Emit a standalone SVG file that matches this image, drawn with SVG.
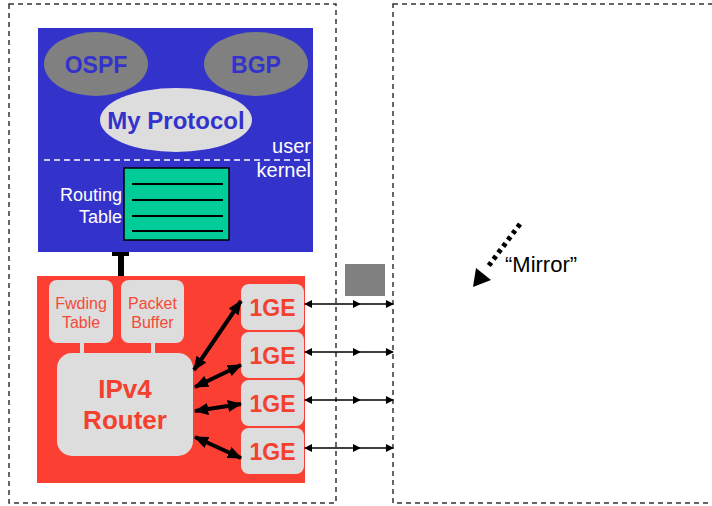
<svg xmlns="http://www.w3.org/2000/svg" width="712" height="506" viewBox="0 0 712 506">
<style>
.frame{fill:none;stroke:#333;stroke-width:1.5;stroke-dasharray:5 4}
.ell{fill:#808080}
.bt{font-family:"Liberation Sans",Arial,sans-serif;font-weight:bold;fill:#3333CC;text-anchor:middle}
.wt{font-family:"Liberation Sans",Arial,sans-serif;fill:#fff;font-size:20px;text-anchor:end}
.box{fill:#DDDDDD}
.rt{font-family:"Liberation Sans",Arial,sans-serif;fill:#F44A3A;text-anchor:middle}
.rb{font-family:"Liberation Sans",Arial,sans-serif;font-weight:bold;fill:#F4402F;text-anchor:middle}
.thick{stroke:#000;stroke-width:4;fill:none;marker-start:url(#ha);marker-end:url(#ha)}
.thin{stroke:#000;stroke-width:1.5;fill:none;marker-start:url(#sa);marker-end:url(#sa)}
</style>
<defs>
<marker id="ha" viewBox="0 0 12 10" refX="11" refY="5" markerWidth="3.6" markerHeight="3" orient="auto-start-reverse" markerUnits="strokeWidth"><path d="M0,0 L12,5 L0,10 z" fill="#000"/></marker>
<marker id="sa" viewBox="0 0 10 10" refX="9" refY="5" markerWidth="5.5" markerHeight="5.5" orient="auto-start-reverse" markerUnits="strokeWidth"><path d="M0,0 L10,5 L0,10 z" fill="#000"/></marker>
</defs>

<g id="host-frame"><rect class="frame" x="9" y="4" width="327" height="499"/></g>
<g id="mirror-frame"><rect class="frame" x="393" y="4" width="340" height="499"/></g>

<g id="user-space">
<rect x="38" y="28" width="275" height="224" fill="#3333CC"/>
<line x1="44" y1="160" x2="310" y2="160" stroke="#fff" stroke-width="1.5" stroke-dasharray="6 4"/>
<text class="wt" x="311" y="153">user</text>
<text class="wt" x="311" y="177">kernel</text>
</g>
<g id="ospf"><ellipse class="ell" cx="96" cy="64" rx="52" ry="32"/><text class="bt" x="96" y="73" font-size="23">OSPF</text></g>
<g id="bgp"><ellipse class="ell" cx="256" cy="64" rx="52" ry="32"/><text class="bt" x="256" y="73" font-size="23">BGP</text></g>
<g id="my-protocol"><ellipse cx="176" cy="120" rx="76" ry="32" fill="#DDDDDD"/><text class="bt" x="176" y="129" font-size="24">My Protocol</text></g>
<g id="routing-table">
<rect x="124" y="168" width="105" height="72" fill="#00CC99" stroke="#000" stroke-width="1.5"/>
<g stroke="#000" stroke-width="2"><line x1="132" y1="184" x2="223" y2="184"/><line x1="132" y1="200" x2="223" y2="200"/><line x1="132" y1="216" x2="223" y2="216"/><line x1="132" y1="231" x2="223" y2="231"/></g>
<text class="wt" x="122" y="201" style="font-size:18px">Routing</text>
<text class="wt" x="122" y="223" style="font-size:18px">Table</text>
</g>

<g id="forwarding-plane"><rect x="37" y="276" width="268" height="207" fill="#FC3F33"/></g>
<g id="fwding-table"><rect class="box" x="49" y="280" width="64" height="63" rx="8"/><text class="rt" x="81" y="309" font-size="16">Fwding</text><text class="rt" x="81" y="328" font-size="16">Table</text></g>
<g id="packet-buffer"><rect class="box" x="121" y="280" width="63" height="63" rx="8"/><text class="rt" x="152.5" y="309" font-size="16">Packet</text><text class="rt" x="152.5" y="328" font-size="16">Buffer</text></g>
<g id="ipv4-router"><rect class="box" x="57" y="353" width="136" height="103" rx="15"/><text class="rb" x="125" y="398" font-size="26">IPv4</text><text class="rb" x="125" y="429" font-size="26">Router</text></g>
<g id="ge1"><rect class="box" x="241" y="284" width="63" height="46" rx="8"/><text class="rb" x="272.5" y="316" font-size="23">1GE</text></g>
<g id="ge2"><rect class="box" x="241" y="332" width="63" height="46" rx="8"/><text class="rb" x="272.5" y="364" font-size="23">1GE</text></g>
<g id="ge3"><rect class="box" x="241" y="380" width="63" height="46" rx="8"/><text class="rb" x="272.5" y="412" font-size="23">1GE</text></g>
<g id="ge4"><rect class="box" x="241" y="428" width="63" height="46" rx="8"/><text class="rb" x="272.5" y="460" font-size="23">1GE</text></g>
<g id="mirror-port"><rect x="345" y="264" width="40" height="32" fill="#808080"/></g>
<g id="mirror-label"><text x="505" y="272" font-family="'Liberation Sans',Arial,sans-serif" font-size="22" fill="#000">“Mirror”</text></g>

<g id="connectors">
<line x1="121" y1="252" x2="121" y2="276" stroke="#000" stroke-width="6"/>
<rect x="112" y="252" width="17" height="4" fill="#000"/>
<line x1="82" y1="343" x2="82" y2="353" stroke="#DDDDDD" stroke-width="4"/>
<line x1="153" y1="343" x2="153" y2="353" stroke="#DDDDDD" stroke-width="4"/>
<line class="thick" x1="194" y1="370" x2="241" y2="301"/>
<line class="thick" x1="195" y1="387" x2="241" y2="365"/>
<line class="thick" x1="195" y1="411" x2="241" y2="404"/>
<line class="thick" x1="195" y1="437" x2="241" y2="458"/>
<g>
<line class="thin" x1="305" y1="304" x2="393" y2="304"/>
<line class="thin" x1="305" y1="352" x2="393" y2="352"/>
<line class="thin" x1="305" y1="400" x2="393" y2="400"/>
<line class="thin" x1="305" y1="448" x2="393" y2="448"/>
<g fill="#000"><path d="M361,304 l-8,-4 v8 z"/><path d="M361,352 l-8,-4 v8 z"/><path d="M361,400 l-8,-4 v8 z"/><path d="M361,448 l-8,-4 v8 z"/></g>
</g>
<line x1="520" y1="224" x2="487" y2="268" stroke="#000" stroke-width="5" stroke-dasharray="4 4"/>
<path d="M473,287 L476,268 L491,280 z" fill="#000"/>
</g>
</svg>
